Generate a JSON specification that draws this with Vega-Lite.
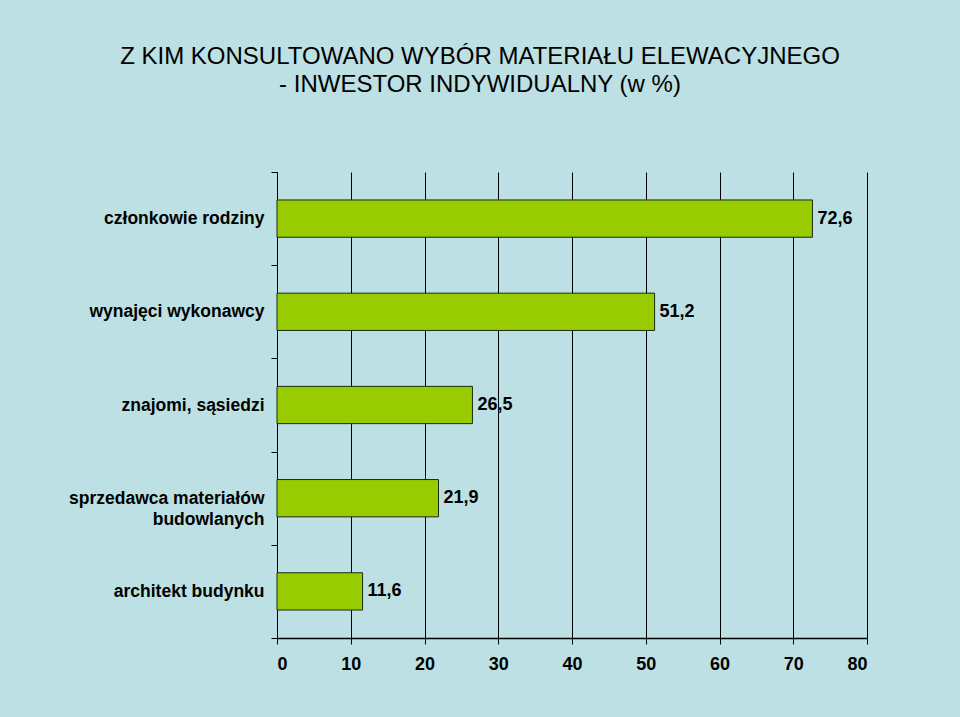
{
  "$schema": "https://vega.github.io/schema/vega-lite/v6.json",
  "autosize": {"type": "none"},
  "width": 590,
  "height": 466,
  "padding": {"left": 277, "top": 172, "right": 93, "bottom": 79},
  "background": "#BCE0E3",
  "config": {
    "locale": {"number": {"decimal": ",", "thousands": " ", "grouping": [3], "currency": ["", " zł"]}},
    "view": {"stroke": null},
    "font": "Liberation Sans"
  },
  "title": {
    "text": ["Z KIM KONSULTOWANO WYBÓR MATERIAŁU ELEWACYJNEGO", "- INWESTOR INDYWIDUALNY (w %)"],
    "font": "Liberation Sans",
    "fontSize": 24,
    "fontWeight": "normal",
    "color": "#000000",
    "lineHeight": 28,
    "anchor": "middle",
    "frame": "group",
    "dx": -92,
    "offset": 66
  },
  "data": {
    "values": [
      {"kategoria": "członkowie rodziny", "wartosc": 72.6},
      {"kategoria": "wynajęci wykonawcy", "wartosc": 51.2},
      {"kategoria": "znajomi, sąsiedzi", "wartosc": 26.5},
      {"kategoria": "sprzedawca materiałów budowlanych", "wartosc": 21.9},
      {"kategoria": "architekt budynku", "wartosc": 11.6}
    ]
  },
  "encoding": {
    "y": {
      "field": "kategoria",
      "type": "nominal",
      "sort": null,
      "title": null,
      "scale": {"paddingInner": 0, "paddingOuter": 0},
      "axis": {
        "domainColor": "#000000",
        "tickColor": "#000000",
        "tickSize": 6,
        "tickBand": "extent",
        "labelFont": "Liberation Sans",
        "labelFontSize": 17.5,
        "labelFontWeight": "bold",
        "labelColor": "#000000",
        "labelPadding": 7,
        "labelLimit": 300,
        "labelLineHeight": 21,
        "labelExpr": "datum.value == 'sprzedawca materiałów budowlanych' ? ['sprzedawca materiałów', 'budowlanych'] : datum.label"
      }
    },
    "x": {
      "field": "wartosc",
      "type": "quantitative",
      "title": null,
      "scale": {"domain": [0, 80], "nice": false},
      "axis": {
        "values": [0, 10, 20, 30, 40, 50, 60, 70, 80],
        "grid": true,
        "gridColor": "#000000",
        "gridOpacity": 1,
        "gridWidth": 1,
        "domainColor": "#000000",
        "domainWidth": 1.5,
        "tickColor": "#000000",
        "tickSize": 6,
        "labelFont": "Liberation Sans",
        "labelFontSize": 18,
        "labelFontWeight": "bold",
        "labelColor": "#000000",
        "labelPadding": 11,
        "format": "d"
      }
    }
  },
  "layer": [
    {
      "mark": {"type": "bar", "color": "#99CC00", "stroke": "#1a2a10", "strokeWidth": 1, "height": {"band": 0.4}}
    },
    {
      "mark": {"type": "text", "align": "left", "baseline": "middle", "dx": 5, "font": "Liberation Sans", "fontSize": 18, "fontWeight": "bold", "color": "#000000"},
      "encoding": {
        "text": {"field": "wartosc", "type": "quantitative", "format": ".1f"}
      }
    }
  ]
}
